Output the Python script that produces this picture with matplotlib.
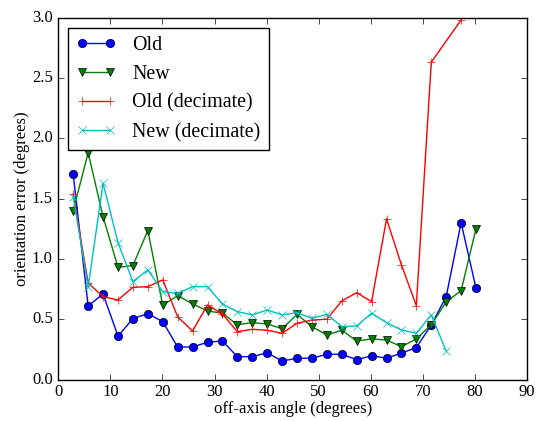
import numpy as np
import matplotlib
matplotlib.use('Agg')
import matplotlib.pyplot as plt

plt.style.use('classic')
plt.rcParams['font.family'] = ['Liberation Serif', 'DejaVu Serif']
plt.rcParams['font.size'] = 12

# off-axis angle bins (degrees)
angle = [2.86, 5.73, 8.59, 11.46, 14.32, 17.19, 20.05, 22.92, 25.78, 28.65,
         31.51, 34.38, 37.24, 40.11, 42.97, 45.84, 48.70, 51.57, 54.43, 57.30,
         60.16, 63.03, 65.89, 68.75, 71.62, 74.48, 77.35, 80.21]

old = [1.70, 0.61, 0.71, 0.36, 0.505, 0.547, 0.48, 0.27, 0.27, 0.31,
       0.32, 0.19, 0.19, 0.223, 0.154, 0.177, 0.177, 0.21, 0.21, 0.165,
       0.198, 0.177, 0.22, 0.265, 0.453, 0.687, 1.30, 0.757]

new = [1.40, 1.88, 1.35, 0.93, 0.945, 1.235, 0.616, 0.696, 0.627, 0.569,
       0.55, 0.455, 0.472, 0.461, 0.422, 0.54, 0.439, 0.37, 0.409, 0.32,
       0.337, 0.328, 0.273, 0.337, 0.455, 0.643, 0.737, 1.251]

# decimated runs (no bin at 74.5 for old, nothing past 74.5 for new)
angle_old_dec = angle[:25] + [angle[26]]
old_dec = [1.536, 0.80, 0.687, 0.66, 0.765, 0.77, 0.826, 0.52, 0.403, 0.619,
           0.544, 0.397, 0.417, 0.409, 0.384, 0.467, 0.494, 0.50, 0.652, 0.72,
           0.646, 1.332, 0.95, 0.613, 2.63, 2.98]

angle_new_dec = angle[:26]
new_dec = [1.517, 0.765, 1.628, 1.135, 0.812, 0.909, 0.729, 0.715, 0.77, 0.77,
           0.627, 0.563, 0.536, 0.577, 0.536, 0.555, 0.508, 0.541, 0.439, 0.444,
           0.55, 0.472, 0.411, 0.384, 0.536, 0.237]

fig = plt.figure(figsize=(5.36, 4.21), dpi=100)
ax = fig.add_axes([0.1088, 0.0983, 0.8744, 0.8601])

ax.plot(angle, old, 'bo-', label='Old')
ax.plot(angle, new, 'gv-', label='New')
ax.plot(angle_old_dec, old_dec, 'r+-', label='Old (decimate)')
ax.plot(angle_new_dec, new_dec, 'cx-', label='New (decimate)')

ax.set_xlim(0, 90)
ax.set_ylim(0, 3.0)
ax.tick_params(axis='x', pad=3)
ax.set_xlabel('off-axis angle (degrees)', labelpad=1)
ax.set_ylabel('orientation error (degrees)', labelpad=1)
ax.legend(loc='upper left')

fig.savefig('out.png', dpi=100)
